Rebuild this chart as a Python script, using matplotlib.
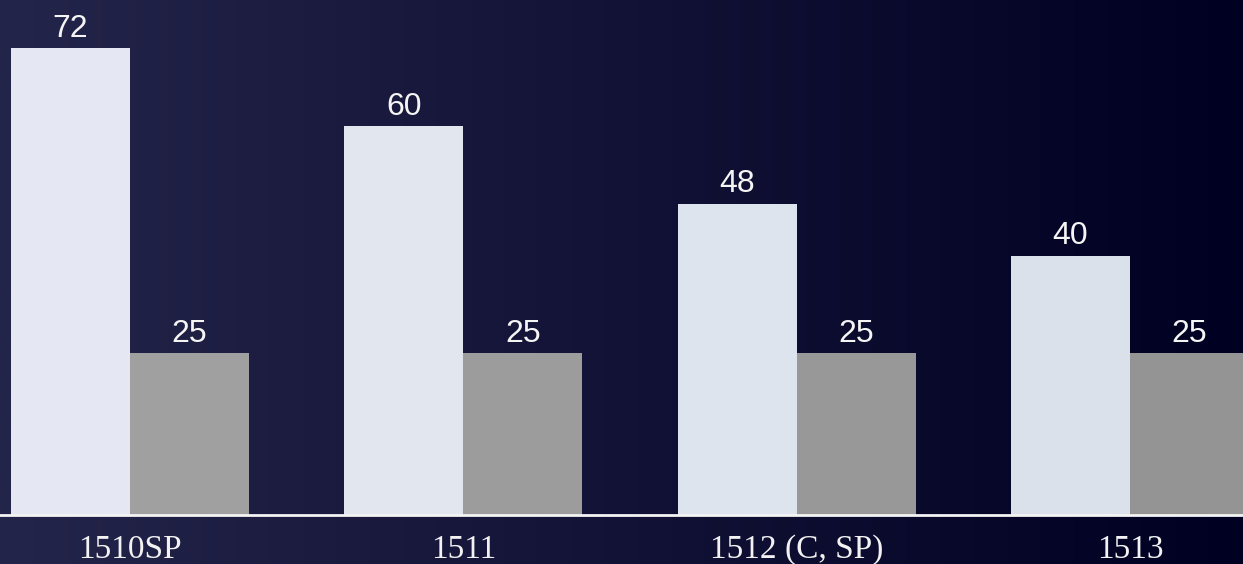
import numpy as np
from matplotlib import pyplot as plt
from matplotlib.colors import to_rgb

categories = ["1510SP", "1511", "1512 (C, SP)", "1513"]
first_values = [72, 60, 48, 40]
second_values = [25, 25, 25, 25]

#background goes from a muted navy on the left to near black-blue on the right
bg_left = np.array([36, 37, 74]) / 255.0
bg_right = np.array([0, 0, 34]) / 255.0
light_left, light_right = to_rgb("#e6e9f2"), to_rgb("#d9e0ea")
grey_left, grey_right = to_rgb("#a2a2a2"), to_rgb("#939393")

fig = plt.figure(figsize=(12.43, 5.64), dpi=100)

bg = fig.add_axes([0, 0, 1, 1], zorder=-1)
t = np.linspace(0, 1, 512)
grad = bg_left[None, :] * (1 - t[:, None]) + bg_right[None, :] * t[:, None]
bg.imshow(grad[None, :, :], aspect="auto", extent=[0, 1, 0, 1])
bg.set_axis_off()

ax = fig.add_axes([0, 49 / 564, 1, 515 / 564])
ax.patch.set_alpha(0)

x = np.arange(len(categories))
width = 0.357
xmin, xmax = -0.39, 3.339

def blend(c0, c1, xpos):
    f = (xpos - xmin) / (xmax - xmin)
    return tuple(np.array(c0) * (1 - f) + np.array(c1) * f)

for i in x:
    ax.bar(i - width / 2, first_values[i], width, color=blend(light_left, light_right, i - width / 2))
    ax.bar(i + width / 2, second_values[i], width, color=blend(grey_left, grey_right, i + width / 2))
    ax.annotate(str(first_values[i]), xy=(i - width / 2, first_values[i]), xytext=(0, 3),
                textcoords="offset points", ha="center", va="bottom",
                fontsize=23, family="Liberation Sans", color="#f5f5f5")
    ax.annotate(str(second_values[i]), xy=(i + width / 2, second_values[i]), xytext=(0, 3),
                textcoords="offset points", ha="center", va="bottom",
                fontsize=23, family="Liberation Sans", color="#f5f5f5")

ax.set_xlim(xmin, xmax)
ax.set_ylim(0, 79.4)
ax.set_xticks(x)
ax.set_xticklabels(categories, family="Liberation Serif", fontsize=24, color="#f2f2f2")
ax.tick_params(axis="x", length=0, pad=14)
ax.set_yticks([])
for side in ["top", "left", "right"]:
    ax.spines[side].set_visible(False)
ax.spines["bottom"].set_color("#f4f4f4")
ax.spines["bottom"].set_linewidth(2)

plt.savefig("out.png", dpi=100)
